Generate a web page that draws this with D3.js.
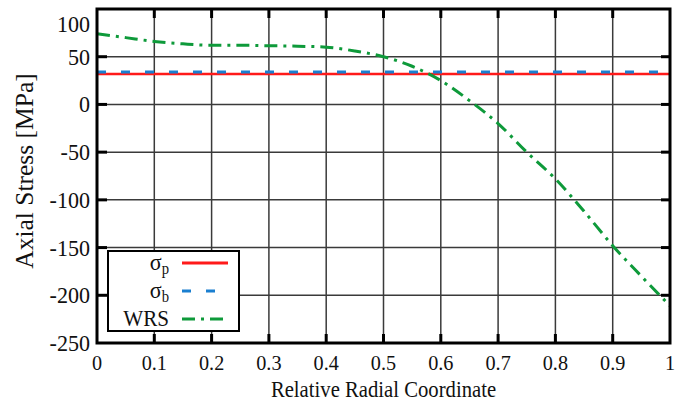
<!DOCTYPE html>
<html>
<head>
<meta charset="utf-8">
<script src="https://cdn.jsdelivr.net/npm/d3@7"></script>
<style>
  body { margin: 0; background: #fff; }
  text { font-family: "Liberation Serif", "DejaVu Serif", serif; fill: #111; }
</style>
</head>
<body>
<svg id="chart" width="680" height="406"></svg>
<script>
// Radial positions and the welding residual stress curve
const radial = [0, 0.05, 0.1, 0.15, 0.2, 0.25, 0.3, 0.35, 0.4, 0.45, 0.5,
  0.55, 0.6, 0.65, 0.7, 0.75, 0.8, 0.85, 0.9, 0.95, 1];
const wrs = [74, 70, 66, 63.5, 62, 62, 61.5, 61, 60, 56, 50,
  40, 25, 4, -20, -50, -78, -112, -148, -180, -211];

// Constant stresses
const sigma_p = 32;
const sigma_b = 34;

// Axis ticks
const xTicks = [0, 0.1, 0.2, 0.3, 0.4, 0.5, 0.6, 0.7, 0.8, 0.9, 1];
const xTickLabels = ["0", "0.1", "0.2", "0.3", "0.4", "0.5", "0.6", "0.7", "0.8", "0.9", "1"];
const yTicks = [100, 50, 0, -50, -100, -150, -200, -250];

// set the dimensions of the plot area
const margin = {top: 9, right: 10, bottom: 63, left: 97},
  width = 680 - margin.left - margin.right,
  height = 406 - margin.top - margin.bottom;

// text in the picture is a little narrow, squeeze it sideways
const sx = 0.92;

const svg = d3.select("#chart")
  .append("g")
    .attr("transform", `translate(${margin.left},${margin.top})`);

const x = d3.scaleLinear().domain([0, 1]).range([0, width]);
const y = d3.scaleLinear().domain([-250, 100]).range([height, 0]);

// grid lines
svg.append("g")
  .attr("stroke", "#3a3a3a")
  .attr("stroke-width", 1.5)
  .selectAll("line")
  .data(xTicks.slice(1, -1))
  .join("line")
    .attr("x1", d => x(d)).attr("x2", d => x(d))
    .attr("y1", 0).attr("y2", height);
svg.append("g")
  .attr("stroke", "#3a3a3a")
  .attr("stroke-width", 1.5)
  .selectAll("line")
  .data(yTicks.slice(1, -1))
  .join("line")
    .attr("x1", 0).attr("x2", width)
    .attr("y1", d => y(d)).attr("y2", d => y(d));

// inward ticks on all four sides
const tk = svg.append("g").attr("stroke", "#000").attr("stroke-width", 3);
xTicks.slice(1, -1).forEach(function(d) {
  tk.append("line").attr("x1", x(d)).attr("x2", x(d)).attr("y1", height).attr("y2", height - 9);
  tk.append("line").attr("x1", x(d)).attr("x2", x(d)).attr("y1", 0).attr("y2", 9);
});
yTicks.slice(1, -1).forEach(function(d) {
  tk.append("line").attr("x1", 0).attr("x2", 10).attr("y1", y(d)).attr("y2", y(d));
  tk.append("line").attr("x1", width).attr("x2", width - 9).attr("y1", y(d)).attr("y2", y(d));
});

// data lines
const line = d3.line()
  .x(function(d) { return x(d[0]); })
  .y(function(d) { return y(d[1]); });

svg.append("path")
  .datum([[0, sigma_p], [1, sigma_p]])
  .attr("d", line)
  .attr("fill", "none")
  .attr("stroke", "#ff1a1a")
  .attr("stroke-width", 2.5);

svg.append("path")
  .datum([[0, sigma_b], [1, sigma_b]])
  .attr("d", line)
  .attr("fill", "none")
  .attr("stroke", "#1a7fd0")
  .attr("stroke-width", 3)
  .attr("stroke-dasharray", "9,15");

svg.append("path")
  .datum(radial.map(function(r, i) { return [r, wrs[i]]; }))
  .attr("d", line.curve(d3.curveMonotoneX))
  .attr("fill", "none")
  .attr("stroke", "#0e9a3a")
  .attr("stroke-width", 3)
  .attr("stroke-dasharray", "13,6,3,6");

// frame
svg.append("rect")
  .attr("x", 0).attr("y", 0)
  .attr("width", width).attr("height", height)
  .attr("fill", "none")
  .attr("stroke", "#000")
  .attr("stroke-width", 3);

// tick labels
svg.append("g")
  .selectAll("text")
  .data(xTicks)
  .join("text")
    .attr("transform", d => `translate(${x(d)},${height + 27}) scale(${sx},1)`)
    .attr("text-anchor", "middle")
    .attr("font-size", 22)
    .text((d, i) => xTickLabels[i]);

svg.append("g")
  .selectAll("text")
  .data(yTicks)
  .join("text")
    .attr("transform", d => `translate(-7,${d === 100 ? y(d) + 23 : y(d) + 8}) scale(${sx},1)`)
    .attr("text-anchor", "end")
    .attr("font-size", 24)
    .text(d => d);

// axis titles
svg.append("text")
  .attr("transform", `translate(${width / 2},${height + 54}) scale(${sx},1)`)
  .attr("text-anchor", "middle")
  .attr("font-size", 22.5)
  .text("Relative Radial Coordinate");

svg.append("text")
  .attr("transform", `translate(${33 - margin.left},${171 - margin.top}) rotate(-90)`)
  .attr("text-anchor", "middle")
  .attr("font-size", 25.5)
  .text("Axial Stress [MPa]");

// legend
const lg = svg.append("g").attr("transform", "translate(11,242)");
lg.append("rect")
  .attr("width", 131).attr("height", 80)
  .attr("fill", "#fff")
  .attr("stroke", "#000")
  .attr("stroke-width", 2);

const legendItems = [
  {name: "σ", sub: "p", color: "#ff1a1a", dash: null},
  {name: "σ", sub: "b", color: "#1a7fd0", dash: "9,15"},
  {name: "WRS", sub: null, color: "#0e9a3a", dash: "13,6,3,6"}
];
const rowY = [12, 40, 68];
legendItems.forEach(function(d, i) {
  const yy = rowY[i];
  const t = lg.append("text")
    .attr("transform", `translate(61,${yy + 7}) scale(${sx},1)`)
    .attr("text-anchor", "end")
    .attr("font-size", d.sub ? 24 : 23);
  t.append("tspan").text(d.name);
  if (d.sub) {
    t.append("tspan").attr("dy", 4).attr("font-size", 16).text(d.sub);
  }
  lg.append("line")
    .attr("x1", 74).attr("x2", 120)
    .attr("y1", yy).attr("y2", yy)
    .attr("stroke", d.color)
    .attr("stroke-width", 3)
    .attr("stroke-dasharray", d.dash);
});
</script>
</body>
</html>
